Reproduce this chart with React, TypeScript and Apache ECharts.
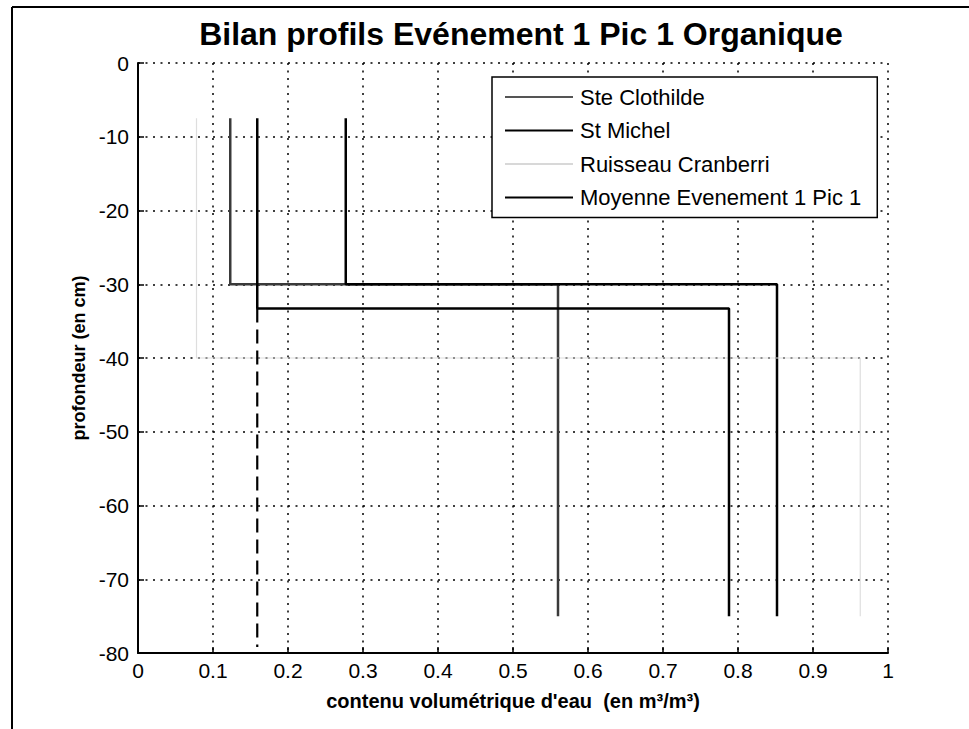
import React, { useEffect, useRef } from "react";
import * as echarts from "echarts";

const seriesNames = ["Ste Clothilde", "St Michel", "Ruisseau Cranberri", "Moyenne Evenement 1 Pic 1"];
const depthSteClothilde = [-7.5, -30, -30, -75];
const thetaSteClothilde = [0.123, 0.123, 0.56, 0.56];
const depthStMichel = [-7.5, -30, -30, -75];
const thetaStMichel = [0.277, 0.277, 0.852, 0.852];
const depthRuisseau = [-7.5, -40, -40, -75];
const thetaRuisseau = [0.078, 0.078, 0.963, 0.963];
const depthMoyenne = [-7.5, -33.3, -33.3, -75];
const thetaMoyenne = [0.159, 0.159, 0.788, 0.788];
const depthDashed = [-33.3, -79.2];
const thetaDashed = [0.159, 0.159];

const pairs = (xs: number[], ys: number[]) => xs.map((x, i) => [x, ys[i]]);

export default function App() {
  const ref = useRef<HTMLDivElement>(null);
  useEffect(() => {
    if (!ref.current) return;
    const chart = echarts.init(ref.current, null, { renderer: "svg" });
    const font = "'Liberation Sans', Arial, sans-serif";
    chart.setOption({
      animation: false,
      backgroundColor: "#fff",
      textStyle: { fontFamily: font },
      title: {
        text: "Bilan profils Evénement 1 Pic 1 Organique",
        left: 516,
        top: 13,
        textAlign: "center",
        textStyle: { fontSize: 32, fontWeight: "bold", color: "#000", fontFamily: font },
      },
      legend: {
        data: seriesNames,
        orient: "vertical",
        left: 492,
        top: 77,
        padding: [9, 16, 9, 13],
        icon: "rect",
        itemWidth: 68,
        itemHeight: 2,
        itemGap: 11.5,
        backgroundColor: "#fff",
        borderColor: "#000",
        borderWidth: 1.5,
        textStyle: { fontSize: 22, color: "#000", fontFamily: font, padding: [0, 0, 0, 2] },
      },
      grid: { left: 138, top: 63, width: 750, height: 590, containLabel: false },
      xAxis: {
        type: "value",
        min: 0,
        max: 1,
        interval: 0.1,
        name: "contenu volumétrique d'eau  (en m³/m³)",
        nameLocation: "middle",
        nameGap: 38,
        nameTextStyle: { fontSize: 20, fontWeight: "bold", color: "#000", fontFamily: font },
        axisLine: { show: true, onZero: false, lineStyle: { color: "#000", width: 2 } },
        axisTick: { show: true, inside: true, length: 6, lineStyle: { color: "#000", width: 1.5 } },
        axisLabel: {
          fontSize: 21,
          color: "#000",
          margin: 7,
          formatter: (v: number) => String(Math.round(v * 10) / 10),
        },
        splitLine: { show: true, lineStyle: { color: "#000", width: 1.5, type: [2, 5.5] } },
      },
      yAxis: {
        type: "value",
        min: -80,
        max: 0,
        interval: 10,
        name: "profondeur (en cm)",
        nameLocation: "middle",
        nameRotate: 90,
        nameGap: 49,
        nameTextStyle: { fontSize: 18, fontWeight: "bold", color: "#000", fontFamily: font },
        axisLine: { show: true, onZero: false, lineStyle: { color: "#000", width: 2 } },
        axisTick: { show: true, inside: true, length: 6, lineStyle: { color: "#000", width: 1.5 } },
        axisLabel: { fontSize: 21, color: "#000", margin: 9 },
        splitLine: { show: true, lineStyle: { color: "#000", width: 1.5, type: [2, 5.5] } },
      },
      series: [
        {
          name: seriesNames[0],
          type: "line",
          symbol: "none",
          data: pairs(thetaSteClothilde, depthSteClothilde),
          lineStyle: { color: "#3a3a3a", width: 2.5 },
          itemStyle: { color: "#555" },
        },
        {
          name: seriesNames[1],
          type: "line",
          symbol: "none",
          data: pairs(thetaStMichel, depthStMichel),
          lineStyle: { color: "#000", width: 2.5 },
          itemStyle: { color: "#000" },
        },
        {
          name: seriesNames[2],
          type: "line",
          symbol: "none",
          data: pairs(thetaRuisseau, depthRuisseau),
          lineStyle: { color: "#dedede", width: 1.2 },
          itemStyle: { color: "#d8d8d8" },
        },
        {
          name: seriesNames[3],
          type: "line",
          symbol: "none",
          data: pairs(thetaMoyenne, depthMoyenne),
          lineStyle: { color: "#000", width: 2.5 },
          itemStyle: { color: "#000" },
        },
        {
          name: "",
          type: "line",
          symbol: "none",
          data: pairs(thetaDashed, depthDashed),
          lineStyle: { color: "#000", width: 2.2, type: [14, 7] },
        },
      ],
      graphic: [
        { type: "line", shape: { x1: 12, y1: 7, x2: 969, y2: 7 }, style: { stroke: "#000", lineWidth: 2 } },
        { type: "line", shape: { x1: 12, y1: 7, x2: 12, y2: 729 }, style: { stroke: "#000", lineWidth: 2 } },
      ],
    });
    return () => chart.dispose();
  }, []);
  return (
    <div
      ref={ref}
      style={{ position: "fixed", left: 0, top: 0, width: 969, height: 729, background: "#fff" }}
    />
  );
}
